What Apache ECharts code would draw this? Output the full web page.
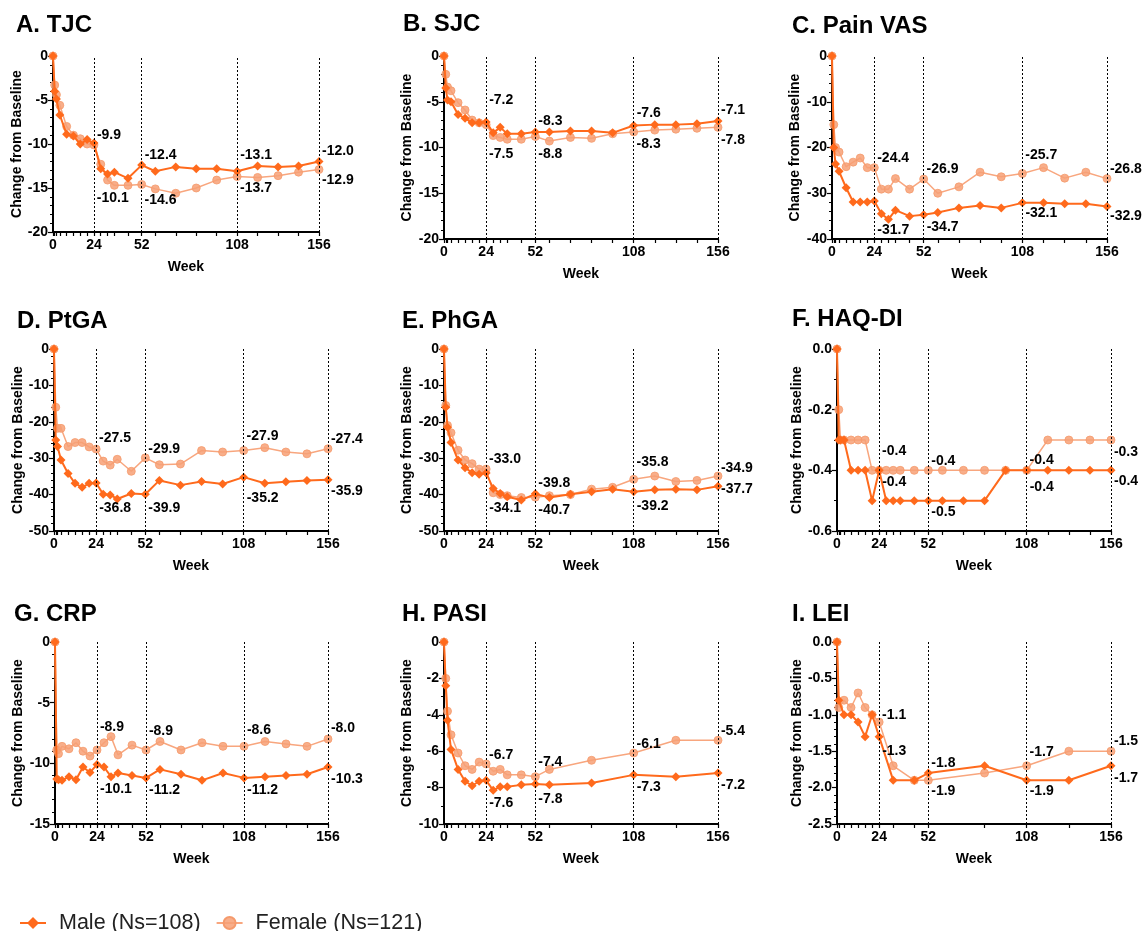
<!DOCTYPE html>
<html>
<head>
<meta charset="utf-8">
<script src="https://cdn.jsdelivr.net/npm/echarts@6/dist/echarts.min.js"></script>
<style>
html,body{margin:0;padding:0;background:#fff;}
#chart{width:1145px;height:931px;}
</style>
</head>
<body>
<div id="chart"></div>
<script>
// ---------- DATA ----------
const weeks  = [0,1,2,4,8,12,16,20,24,28,32,36,44,52,60,72,84,96,108,120,132,144,156];
const weeksH = [0,1,2,4,8,12,16,20,24,28,32,36,44,52,60,84,108,132,156];
const weeksI = [0,1,4,8,12,16,20,24,32,44,52,84,108,132,156];
const labelWeeks = [24,52,108,156];
const xTickLabels = [0,24,52,108,156];
const seriesNames = ['Male (Ns=108)','Female (Ns=121)'];
const panelTitles = ['A. TJC','B. SJC','C. Pain VAS','D. PtGA','E. PhGA','F. HAQ-DI','G. CRP','H. PASI','I. LEI'];

const tjcMale   = [0,-4.0,-4.9,-6.7,-8.9,-9.1,-10.0,-9.5,-9.9,-12.8,-13.4,-13.2,-13.9,-12.4,-13.1,-12.6,-12.8,-12.8,-13.1,-12.5,-12.6,-12.5,-12.0];
const tjcFemale = [0,-3.3,-4.4,-5.6,-8.0,-9.0,-9.4,-10.0,-10.1,-12.3,-14.1,-14.7,-14.7,-14.6,-15.1,-15.6,-15.0,-14.1,-13.7,-13.8,-13.6,-13.2,-12.9];
const sjcMale   = [0,-3.5,-4.8,-5.0,-6.4,-6.8,-7.3,-7.3,-7.2,-8.4,-7.8,-8.5,-8.5,-8.3,-8.3,-8.2,-8.2,-8.4,-7.6,-7.5,-7.5,-7.4,-7.1];
const sjcFemale = [0,-2.0,-3.4,-3.8,-5.1,-5.9,-7.0,-7.3,-7.5,-8.7,-8.9,-9.1,-9.1,-8.8,-9.3,-8.9,-9.0,-8.5,-8.3,-8.1,-8.0,-7.9,-7.8];
const vasMale   = [0,-20.0,-23.6,-25.2,-28.8,-31.9,-31.9,-31.9,-31.7,-34.5,-35.7,-33.7,-35.0,-34.7,-34.2,-33.2,-32.7,-33.2,-32.1,-32.1,-32.3,-32.3,-32.9];
const vasFemale = [0,-15.0,-20.0,-21.0,-24.2,-23.2,-22.3,-24.4,-24.4,-29.1,-29.1,-26.8,-29.1,-26.9,-30.0,-28.6,-25.4,-26.4,-25.7,-24.4,-26.7,-25.4,-26.8];
const ptgaMale   = [0,-25.0,-26.8,-30.5,-34.2,-36.9,-38.0,-36.9,-36.8,-39.9,-40.1,-41.2,-39.7,-39.9,-36.1,-37.4,-36.4,-37.1,-35.2,-36.9,-36.5,-36.1,-35.9];
const ptgaFemale = [0,-16.0,-21.8,-21.8,-26.8,-25.7,-25.7,-26.9,-27.5,-30.8,-31.9,-30.3,-33.6,-29.9,-31.8,-31.6,-27.9,-28.3,-27.9,-27.1,-28.3,-28.8,-27.4];
const phgaMale   = [0,-16.0,-21.5,-25.7,-30.5,-32.6,-34.0,-34.4,-34.1,-38.3,-39.7,-40.6,-41.5,-39.8,-40.8,-39.9,-39.2,-38.5,-39.2,-38.7,-38.5,-38.7,-37.7];
const phgaFemale = [0,-15.5,-21.0,-23.0,-27.8,-30.5,-31.5,-33.0,-33.0,-39.5,-40.0,-40.3,-40.8,-40.7,-40.3,-40.0,-38.5,-38.0,-35.8,-34.9,-36.4,-36.1,-34.9];
const haqMale   = [0,-0.3,-0.3,-0.3,-0.4,-0.4,-0.4,-0.5,-0.4,-0.5,-0.5,-0.5,-0.5,-0.5,-0.5,-0.5,-0.5,-0.4,-0.4,-0.4,-0.4,-0.4,-0.4];
const haqFemale = [0,-0.2,-0.3,-0.3,-0.3,-0.3,-0.3,-0.4,-0.4,-0.4,-0.4,-0.4,-0.4,-0.4,-0.4,-0.4,-0.4,-0.4,-0.4,-0.3,-0.3,-0.3,-0.3];
const crpMale   = [0,-11.3,-11.35,-11.4,-11.1,-11.35,-10.3,-10.75,-10.1,-10.3,-11.1,-10.8,-11.0,-11.2,-10.5,-10.9,-11.4,-10.8,-11.2,-11.1,-11.0,-10.9,-10.3];
const crpFemale = [0,-8.9,-9.2,-8.6,-8.8,-8.3,-9.0,-9.4,-8.9,-8.3,-7.8,-9.3,-8.5,-8.9,-8.2,-8.9,-8.3,-8.6,-8.6,-8.2,-8.4,-8.6,-8.0];
const pasiMale   = [0,-2.4,-4.3,-5.9,-7.0,-7.65,-7.9,-7.65,-7.6,-8.15,-7.95,-7.95,-7.85,-7.8,-7.85,-7.75,-7.3,-7.4,-7.2];
const pasiFemale = [0,-2.0,-3.8,-5.1,-6.1,-6.8,-7.0,-6.6,-6.7,-7.1,-7.0,-7.3,-7.3,-7.4,-7.0,-6.5,-6.1,-5.4,-5.4];
const leiMale   = [0,-0.8,-1.0,-1.0,-1.1,-1.3,-1.0,-1.3,-1.9,-1.9,-1.8,-1.7,-1.9,-1.9,-1.7];
const leiFemale = [0,-0.9,-0.8,-0.9,-0.7,-0.9,-1.0,-1.1,-1.7,-1.9,-1.9,-1.8,-1.7,-1.5,-1.5];

// y-axis ranges: [min, max, interval]
const yRanges = [[-20,0,5],[-20,0,5],[-40,0,10],[-50,0,10],[-50,0,10],[-0.6,0,0.2],[-15,0,5],[-10,0,2],[-2.5,0,0.5]];
const yDecimals = [0,0,0,0,0,1,0,0,1];

// ---------- LAYOUT / STYLE ----------
const FONT = '"Liberation Sans", Arial, Helvetica, sans-serif';
const MALE = '#FF6A1C';
const FEMALE = '#F8A67E';
const layout = [
  {grid:[53,56,266,176],  title:[16,13],  nameGap:28, minor:5},
  {grid:[444,56,274,183], title:[403,12], nameGap:30, minor:5},
  {grid:[832,56,275,183], title:[792,14], nameGap:30, minor:5},
  {grid:[54,349,274,182], title:[17,309], nameGap:29, minor:5},
  {grid:[444,349,274,182],title:[402,309],nameGap:30, minor:5},
  {grid:[837,349,274,182],title:[792,307],nameGap:33, minor:2},
  {grid:[55,642,273,182], title:[14,602], nameGap:30, minor:5},
  {grid:[444,642,274,182],title:[402,602],nameGap:30, minor:2},
  {grid:[837,642,274,182],title:[792,602],nameGap:33, minor:5}
];
// vertical nudges of the value labels at weeks 24, 52, 108, 156
const labelDy = [
  {m:[-8,-10,-16,-10], f:[53,16,12,11]},
  {m:[-22,-11,-12,-11], f:[30,18,12,13]},
  {m:[29,12,10,10], f:[-9.5,-10,-18,-9.5]},
  {m:[25,14,21,11], f:[-11,-9,-14,-10]},
  {m:[35,-11,14,3], f:[-10,13,-17,-8]},
  {m:[12,11,17,11], f:[-19,-9,-10,12]},
  {m:[25,12,12,12], f:[-23,-19,-16,-11]},
  {m:[23,15,12,12], f:[-9,-15,-9,-9]},
  {m:[15,-10,11,12], f:[-7,11,-14,-10]}
];

const panelWeeks = [weeks,weeks,weeks,weeks,weeks,weeks,weeks,weeksH,weeksI];
const panelMale = [tjcMale,sjcMale,vasMale,ptgaMale,phgaMale,haqMale,crpMale,pasiMale,leiMale];
const panelFemale = [tjcFemale,sjcFemale,vasFemale,ptgaFemale,phgaFemale,haqFemale,crpFemale,pasiFemale,leiFemale];

function buildData(ws, vals, dys) {
  return ws.map((w, i) => {
    const k = labelWeeks.indexOf(w);
    if (k < 0) return [w, vals[i]];
    return {
      value: [w, vals[i]],
      label: {
        show: true, formatter: vals[i].toFixed(1), position: 'right', distance: -1.5,
        offset: [0, dys[k]], color: '#000', fontFamily: FONT, fontWeight: 'bold', fontSize: 14
      }
    };
  });
}

const grids = [], xAxes = [], yAxes = [], series = [], titles = [];
for (let p = 0; p < 9; p++) {
  const L = layout[p];
  grids.push({left: L.grid[0], top: L.grid[1], width: L.grid[2], height: L.grid[3], containLabel: false});
  titles.push({text: panelTitles[p], left: L.title[0], top: L.title[1], padding: 0,
    textStyle: {fontFamily: FONT, fontWeight: 'bold', fontSize: 24, color: '#000'}});
  xAxes.push({
    type: 'value', gridIndex: p, min: 0, max: 156,
    name: 'Week', nameLocation: 'middle', nameGap: 28,
    nameTextStyle: {fontFamily: FONT, fontWeight: 'bold', fontSize: 14, color: '#000'},
    axisLine: {show: true, onZero: false, lineStyle: {color: '#000', width: 2}},
    axisTick: {show: true, customValues: panelWeeks[p], length: 4, lineStyle: {color: '#000', width: 1.2}},
    axisLabel: {customValues: xTickLabels, margin: 6, fontFamily: FONT, fontWeight: 'bold', fontSize: 14, color: '#000'},
    splitLine: {show: false}
  });
  const yr = yRanges[p], dec = yDecimals[p];
  yAxes.push({
    type: 'value', gridIndex: p, min: yr[0], max: yr[1], interval: yr[2],
    name: 'Change from Baseline', nameLocation: 'middle', nameRotate: 90, nameGap: L.nameGap,
    nameTextStyle: {fontFamily: FONT, fontWeight: 'bold', fontSize: 14, color: '#000'},
    axisLine: {show: true, onZero: false, lineStyle: {color: '#000', width: 2}},
    axisTick: {show: true, length: 5, lineStyle: {color: '#000', width: 1.2}},
    minorTick: {show: true, splitNumber: L.minor, length: 3, lineStyle: {color: '#000', width: 1}},
    axisLabel: {margin: 5, fontFamily: FONT, fontWeight: 'bold', fontSize: 14, color: '#000',
      formatter: v => (Math.abs(v) < 1e-9 ? 0 : v).toFixed(dec)},
    splitLine: {show: false}
  });
  series.push({
    name: seriesNames[1], type: 'line', xAxisIndex: p, yAxisIndex: p,
    data: buildData(panelWeeks[p], panelFemale[p], labelDy[p].f),
    symbol: 'circle', symbolSize: 8,
    lineStyle: {color: FEMALE, width: 1.5},
    itemStyle: {color: 'rgba(247,160,118,0.85)', borderColor: '#F59A6C', borderWidth: 0.8},
    z: 2, animation: false,
    markLine: {
      silent: true, symbol: 'none', label: {show: false},
      lineStyle: {color: '#000', type: [2, 2], width: 1},
      data: labelWeeks.map(w => ({xAxis: w}))
    }
  });
  series.push({
    name: seriesNames[0], type: 'line', xAxisIndex: p, yAxisIndex: p,
    data: buildData(panelWeeks[p], panelMale[p], labelDy[p].m),
    symbol: 'diamond', symbolSize: 9,
    lineStyle: {color: MALE, width: 2},
    itemStyle: {color: MALE},
    z: 3, animation: false
  });
}

const chart = echarts.init(document.getElementById('chart'), null, {renderer: 'canvas'});
chart.setOption({
  backgroundColor: '#fff',
  animation: false,
  title: titles,
  grid: grids,
  xAxis: xAxes,
  yAxis: yAxes,
  legend: {
    data: seriesNames, left: 19, top: 912, padding: 0, itemWidth: 26, itemHeight: 15, itemGap: 15,
    textStyle: {fontFamily: FONT, fontSize: 21.5, color: '#222', padding: [0, 0, 0, 8]},
    selectedMode: false
  },
  series: series
});
</script>
</body>
</html>
